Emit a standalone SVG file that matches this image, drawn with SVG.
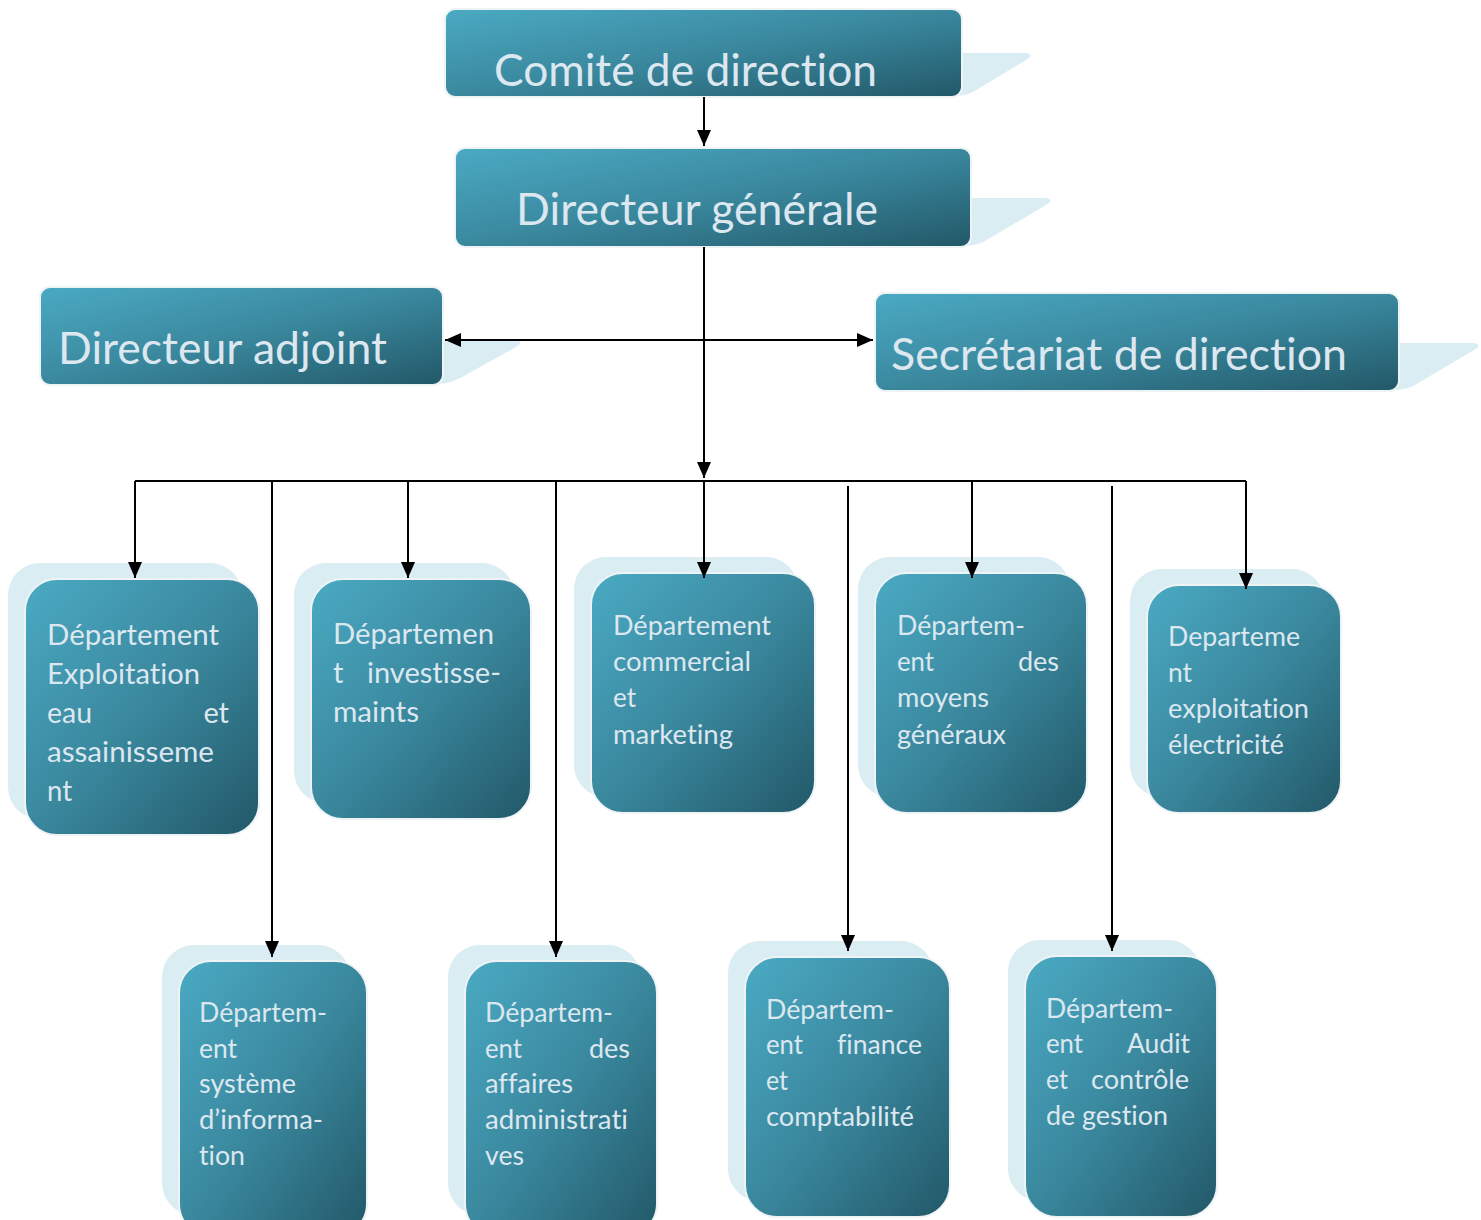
<svg xmlns="http://www.w3.org/2000/svg" width="1481" height="1220" viewBox="0 0 1481 1220">
<defs>
<linearGradient id="g" x1="0" y1="0" x2="1" y2="1">
<stop offset="0" stop-color="#4aaac3"/>
<stop offset="0.5" stop-color="#3a889e"/>
<stop offset="1" stop-color="#225868"/>
</linearGradient>
<marker id="ah" markerUnits="userSpaceOnUse" markerWidth="16" markerHeight="14" refX="16" refY="7" orient="auto-start-reverse">
<path d="M0,0 L16,7 L0,14 Z" fill="#000"/>
</marker>
<style>
.box{fill:url(#g);stroke:#eef3f6;stroke-width:2}
.sh{fill:#daedf3}
.t{font-family:Lato,"Open Sans","Liberation Sans",sans-serif;fill:#dce7f0;font-variant-ligatures:none}
.big{font-size:44px}
.d1{font-size:29px}
.d2{font-size:27px}
.c{fill:none;stroke:#000;stroke-width:2}
.a{marker-end:url(#ah)}
</style>
</defs>
<rect width="1481" height="1220" fill="#fff"/>

<g id="comite">
<path class="sh" d="M950,53 H1024 Q1036,54 1026,60 L978,89 Q968,96 955,96 Z"/>
<rect class="box" x="445" y="9" width="517" height="88" rx="10"/>
<text class="t big" x="494" y="86" textLength="383" lengthAdjust="spacingAndGlyphs">Comité de direction</text>
</g>
<g id="directeur-generale">
<path class="sh" d="M960,198 H1044 Q1056,199 1046,205 L990,238 Q978,246 965,246 Z"/>
<rect class="box" x="455" y="148" width="516" height="99" rx="10"/>
<text class="t big" x="516" y="225" textLength="362" lengthAdjust="spacingAndGlyphs">Directeur générale</text>
</g>
<g id="directeur-adjoint">
<path class="sh" d="M432,340 H514 Q526,341 516,347 L462,377 Q450,384 437,384 Z"/>
<rect class="box" x="40" y="287" width="403" height="98" rx="10"/>
<text class="t big" x="58" y="364" textLength="329" lengthAdjust="spacingAndGlyphs">Directeur adjoint</text>
</g>
<g id="secretariat">
<path class="sh" d="M1388,343 H1472 Q1484,344 1474,350 L1420,382 Q1408,390 1395,390 Z"/>
<rect class="box" x="875" y="293" width="524" height="98" rx="10"/>
<text class="t big" x="891" y="370" textLength="456" lengthAdjust="spacingAndGlyphs">Secrétariat de direction</text>
</g>

<g id="dep-eau">
<rect class="sh" x="8" y="563" width="234" height="256" rx="32"/>
<rect class="box" x="25" y="579" width="234" height="256" rx="32"/>
<g class="t d1">
<text x="47" y="645" textLength="172" lengthAdjust="spacingAndGlyphs">Département</text>
<text x="47" y="684" textLength="153" lengthAdjust="spacingAndGlyphs">Exploitation</text>
<text x="47" y="723" textLength="45" lengthAdjust="spacingAndGlyphs">eau</text>
<text x="229" y="723" text-anchor="end">et</text>
<text x="47" y="762" textLength="167" lengthAdjust="spacingAndGlyphs">assainisseme</text>
<text x="47" y="801" textLength="25" lengthAdjust="spacingAndGlyphs">nt</text>
</g>
</g>
<g id="dep-invest">
<rect class="sh" x="294" y="563" width="220" height="240" rx="32"/>
<rect class="box" x="311" y="579" width="220" height="240" rx="32"/>
<g class="t d1">
<text x="333" y="644" textLength="161" lengthAdjust="spacingAndGlyphs">Départemen</text>
<text x="333" y="683">t</text>
<text x="367" y="683" textLength="134" lengthAdjust="spacingAndGlyphs">investisse-</text>
<text x="333" y="722" textLength="86" lengthAdjust="spacingAndGlyphs">maints</text>
</g>
</g>
<g id="dep-commercial">
<rect class="sh" x="574" y="557" width="224" height="240" rx="32"/>
<rect class="box" x="591" y="573" width="224" height="240" rx="32"/>
<g class="t d2">
<text x="613" y="635" textLength="158" lengthAdjust="spacingAndGlyphs">Département</text>
<text x="613" y="671" textLength="138" lengthAdjust="spacingAndGlyphs">commercial</text>
<text x="613" y="707" textLength="23" lengthAdjust="spacingAndGlyphs">et</text>
<text x="613" y="744" textLength="120" lengthAdjust="spacingAndGlyphs">marketing</text>
</g>
</g>
<g id="dep-moyens">
<rect class="sh" x="858" y="557" width="212" height="240" rx="32"/>
<rect class="box" x="875" y="573" width="212" height="240" rx="32"/>
<g class="t d2">
<text x="897" y="635" textLength="128" lengthAdjust="spacingAndGlyphs">Départem-</text>
<text x="897" y="671" textLength="37" lengthAdjust="spacingAndGlyphs">ent</text>
<text x="1059" y="671" text-anchor="end">des</text>
<text x="897" y="707" textLength="92" lengthAdjust="spacingAndGlyphs">moyens</text>
<text x="897" y="744" textLength="109" lengthAdjust="spacingAndGlyphs">généraux</text>
</g>
</g>
<g id="dep-electricite">
<rect class="sh" x="1130" y="569" width="194" height="228" rx="32"/>
<rect class="box" x="1147" y="585" width="194" height="228" rx="32"/>
<g class="t d2">
<text x="1168" y="646" textLength="132" lengthAdjust="spacingAndGlyphs">Departeme</text>
<text x="1168" y="682" textLength="24" lengthAdjust="spacingAndGlyphs">nt</text>
<text x="1168" y="718" textLength="141" lengthAdjust="spacingAndGlyphs">exploitation</text>
<text x="1168" y="754" textLength="116" lengthAdjust="spacingAndGlyphs">électricité</text>
</g>
</g>

<g id="dep-si">
<rect class="sh" x="162" y="945" width="188" height="270" rx="32"/>
<rect class="box" x="179" y="961" width="188" height="275" rx="32"/>
<g class="t d2">
<text x="199" y="1022" textLength="128" lengthAdjust="spacingAndGlyphs">Départem-</text>
<text x="199" y="1058" textLength="38" lengthAdjust="spacingAndGlyphs">ent</text>
<text x="199" y="1093" textLength="97" lengthAdjust="spacingAndGlyphs">système</text>
<text x="199" y="1129" textLength="124" lengthAdjust="spacingAndGlyphs">d’informa-</text>
<text x="199" y="1165" textLength="46" lengthAdjust="spacingAndGlyphs">tion</text>
</g>
</g>
<g id="dep-admin">
<rect class="sh" x="448" y="945" width="192" height="270" rx="32"/>
<rect class="box" x="465" y="961" width="192" height="275" rx="32"/>
<g class="t d2">
<text x="485" y="1022" textLength="128" lengthAdjust="spacingAndGlyphs">Départem-</text>
<text x="485" y="1058" textLength="37" lengthAdjust="spacingAndGlyphs">ent</text>
<text x="630" y="1058" text-anchor="end">des</text>
<text x="485" y="1093" textLength="88" lengthAdjust="spacingAndGlyphs">affaires</text>
<text x="485" y="1129" textLength="143" lengthAdjust="spacingAndGlyphs">administrati</text>
<text x="485" y="1165" textLength="39" lengthAdjust="spacingAndGlyphs">ves</text>
</g>
</g>
<g id="dep-finance">
<rect class="sh" x="728" y="941" width="205" height="260" rx="32"/>
<rect class="box" x="745" y="957" width="205" height="260" rx="32"/>
<g class="t d2">
<text x="766" y="1019" textLength="128" lengthAdjust="spacingAndGlyphs">Départem-</text>
<text x="766" y="1054" textLength="37" lengthAdjust="spacingAndGlyphs">ent</text>
<text x="837" y="1054" textLength="85" lengthAdjust="spacingAndGlyphs">finance</text>
<text x="766" y="1090" textLength="22" lengthAdjust="spacingAndGlyphs">et</text>
<text x="766" y="1126" textLength="148" lengthAdjust="spacingAndGlyphs">comptabilité</text>
</g>
</g>
<g id="dep-audit">
<rect class="sh" x="1008" y="940" width="192" height="261" rx="32"/>
<rect class="box" x="1025" y="956" width="192" height="261" rx="32"/>
<g class="t d2">
<text x="1046" y="1018" textLength="127" lengthAdjust="spacingAndGlyphs">Départem-</text>
<text x="1046" y="1053" textLength="37" lengthAdjust="spacingAndGlyphs">ent</text>
<text x="1127" y="1053" textLength="63" lengthAdjust="spacingAndGlyphs">Audit</text>
<text x="1046" y="1089" textLength="22" lengthAdjust="spacingAndGlyphs">et</text>
<text x="1091" y="1089" textLength="98" lengthAdjust="spacingAndGlyphs">contrôle</text>
<text x="1046" y="1125" textLength="122" lengthAdjust="spacingAndGlyphs">de gestion</text>
</g>
</g>

<g id="connectors">
<path class="c a" d="M704,97 V146"/>
<path class="c a" d="M704,247 V478"/>
<path class="c a" d="M445,340 H873" marker-start="url(#ah)"/>
<path class="c" d="M135,481 H1246"/>
<path class="c a" d="M135,481 V578"/>
<path class="c a" d="M272,481 V957"/>
<path class="c a" d="M408,481 V578"/>
<path class="c a" d="M556,481 V957"/>
<path class="c a" d="M704,481 V578"/>
<path class="c a" d="M848,486 V951"/>
<path class="c a" d="M972,481 V578"/>
<path class="c a" d="M1112,486 V951"/>
<path class="c a" d="M1246,481 V589"/>
</g>
</svg>
